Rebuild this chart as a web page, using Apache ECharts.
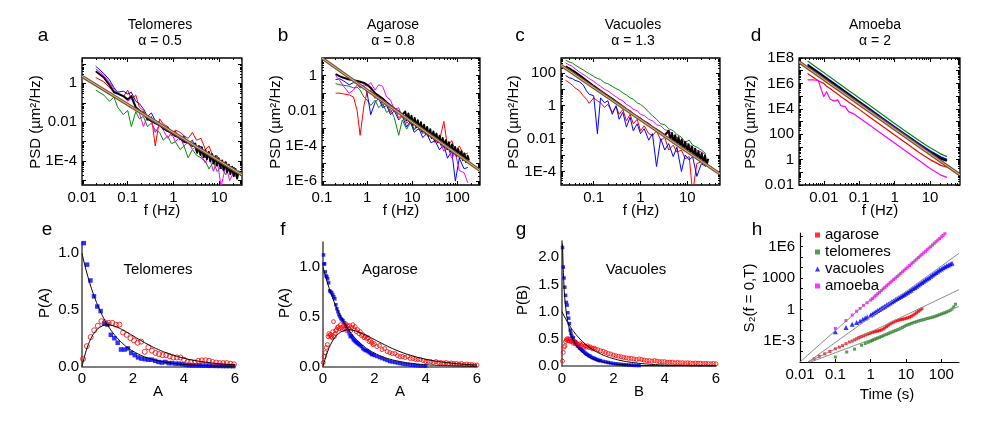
<!DOCTYPE html>
<html>
<head>
<meta charset="utf-8">
<script src="https://cdn.jsdelivr.net/npm/echarts@6/dist/echarts.min.js"></script>
<style>
html, body { margin: 0; padding: 0; background: #fff; }
#chart { width: 1004px; height: 433px; }
</style>
</head>
<body>
<div id="chart"></div>
<script>
// ---- panel a: telomeres PSD ----
const freqA = [0.02,0.03,0.04,0.05,0.06,0.08,0.1,0.12,0.15,0.18,0.22,0.27,0.33,0.4,0.5,0.6,0.75,0.9,1.1,1.4,1.7,2.1,2.6,3.2,4,5,6,7.5,9,11,14,17,21,25];
const blueA = [7.5,3.2,1.5,0.6,0.35,0.4,0.28,0.35,0.12,0.09,0.05,0.02,0.03,0.012,0.01,0.004,0.006,0.003,0.0035,0.0012,0.002,0.0008,0.0012,0.0003,0.0006,0.00015,0.0003,0.00008,0.00015,0.00004,0.00009,0.00003,0.00005,0.00002];
const redA = [2.0,1.2,0.6,0.4,0.3,0.2,0.45,0.15,0.25,0.06,0.04,0.012,0.02,0.0006,0.015,0.008,0.006,0.002,0.004,0.003,0.002,0.0015,0.003,0.0012,0.0015,0.0004,0.0006,0.00015,0.0002,0.00006,0.0001,0.00003,0.00005,0.00002];
const greenA = [0.45,0.25,0.12,0.2,0.06,0.025,0.04,0.006,0.035,0.015,0.02,0.006,0.009,0.004,0.003,0.0012,0.002,0.0008,0.001,0.0004,0.0006,0.00015,0.0004,0.0002,0.00015,0.0001,0.00004,0.00009,0.00003,0.00005,0.00002,0.00004,0.00002,0.000015];
const magentaA = [5.5,2.6,1.1,0.5,0.3,0.22,0.12,0.18,0.05,0.03,0.006,0.02,0.01,0.003,0.008,0.004,0.0015,0.003,0.001,0.0018,0.0006,0.001,0.0004,0.0006,0.0002,0.00008,0.0002,0.00003,0.00012,0.000005,0.00006,0.00001,0.00003,0.00002];
const blackFreqA = [0.02,0.03,0.04,0.05,0.06,0.08,0.1,0.12,0.15,0.18,0.22,0.27,0.33,0.4,0.5,0.6,0.75,0.9,1.1,1.4,1.7,2.1,2.6,3,3.3,3.6,3.9,4.2,4.6,5,5.4,5.9,6.4,7,7.6,8.3,9,9.8,10.7,11.6,12.6,13.7,14.9,16.2,17.6,19.2,20.9,22.7,24.7,27];
const blackA = [4.2,2.0,0.8,0.35,0.3,0.22,0.15,0.22,0.06,0.04,0.03,0.015,0.012,0.009,0.007,0.005,0.0035,0.003,0.002,0.0016,0.001,0.0009,0.0006,8e-4,2.7e-4,6e-4,2.1e-4,5e-4,1.6e-4,3.8e-4,1.3e-4,3e-4,1e-4,2.3e-4,7.7e-5,1.8e-4,6e-5,1.4e-4,4.6e-5,1.1e-4,3.6e-5,8.5e-5,2.8e-5,6.6e-5,2.2e-5,5.2e-5,1.7e-5,4e-5,1.3e-5,3.2e-5];
const fitFreqA = [0.01, 31.6];
const fitA = [2.3, 2e-5];

// ---- panel b: agarose PSD ----
const freqB = [0.2,0.25,0.3,0.4,0.5,0.6,0.7,0.85,1,1.2,1.5,1.8,2.2,2.7,3.3,4,5,6,7.5,9,11,14,17,21,26,32,40,50,60,75,90,110,140,170];
const redB = [0.1,0.1,0.09,0.08,0.06,0.01,0.0004,0.02,0.12,0.15,0.05,0.08,0.02,0.03,0.008,0.015,0.004,0.006,0.002,0.003,0.0008,0.0015,0.0006,0.0009,0.0003,0.0005,0.0002,0.0025,0.0001,0.0002,0.00005,0.0001,0.00003,0.00004];
const greenB = [0.35,0.3,0.28,0.25,0.2,0.22,0.15,0.06,0.04,0.02,0.04,0.015,0.025,0.008,0.012,0.004,0.0004,0.003,0.0009,0.002,0.001,0.0012,0.0005,0.0008,0.0003,0.0004,0.00015,0.0002,0.00006,0.00009,0.00003,0.00005,0.00002,0.00002];
const blueB = [0.6,0.65,0.5,0.3,0.4,0.35,0.2,0.25,0.1,0.006,0.03,0.05,0.015,0.02,0.006,0.01,0.003,0.005,0.0012,0.0025,0.0006,0.001,0.0003,0.0005,0.00015,0.0002,0.00006,0.00012,0.00002,0.00005,0.000001,0.00002,0.000005,0.000006];
const magentaB = [1.0,0.5,0.25,0.1,0.15,0.3,0.2,0.3,0.25,0.4,0.15,0.3,0.25,0.06,0.04,0.012,0.015,0.004,0.006,0.002,0.003,0.001,0.0012,0.0004,0.0005,0.00015,0.0002,0.00005,0.0001,0.00002,0.00004,0.000004,0.000003,0.0000008];
const blackFreqB = [0.2,0.25,0.3,0.4,0.5,0.6,0.7,0.85,1,1.2,1.5,1.8,2.2,2.7,3.3,4,5,6,7,7.6,8.2,8.9,9.6,10.4,11.3,12.2,13.2,14.3,15.5,16.8,18.2,19.7,21.3,23,25,27,29.3,31.7,34.3,37.1,40.2,43.5,47.1,51,55.2,59.8,64.7,70,75.8,82,88.8,96,104,113,122,132,143,155,168,180];
const blackB = [1.2,0.9,0.75,0.6,0.55,0.5,0.45,0.38,0.3,0.2,0.1,0.07,0.05,0.03,0.02,0.013,0.009,0.006,9e-3,2.9e-3,7e-3,2.2e-3,5.2e-3,1.6e-3,3.9e-3,1.2e-3,2.9e-3,9e-4,2.2e-3,6.8e-4,1.6e-3,5e-4,1.2e-3,3.8e-4,9e-4,2.8e-4,6.7e-4,2.1e-4,5e-4,1.6e-4,3.8e-4,1.2e-4,2.8e-4,9e-5,2.1e-4,6.6e-5,1.6e-4,5e-5,1.2e-4,3.7e-5,8.8e-5,2.8e-5,6.6e-5,2.1e-5,5e-5,1.6e-5,3.7e-5,1.2e-5,2.8e-5,1.5e-5];
const fitFreqB = [0.1, 316];
const fitB = [10, 4e-6];

// ---- panel c: vacuoles PSD ----
const freqC = [0.025,0.03,0.035,0.04,0.05,0.06,0.07,0.08,0.1,0.12,0.14,0.17,0.2,0.25,0.3,0.35,0.42,0.5,0.6,0.7,0.85,1,1.2,1.5,1.8,2.2,2.7,3.3,4,5,6,7.5,9,11,13,16,20,25];
const greenC = [600,450,400,300,200,150,110,90,60,45,40,25,22,15,11,9,6,4.5,3,2.5,1.5,1.2,0.8,0.4,0.25,0.15,0.08,0.07,0.04,0.03,0.018,0.012,0.006,0.008,0.004,0.003,0.002,0.0012];
const magentaC = [400,300,250,180,110,80,60,45,30,20,15,10,8,5,3.5,2.5,2,1.2,0.9,0.6,0.5,0.3,0.25,0.15,0.12,0.07,0.06,0.035,0.03,0.015,0.012,0.007,0.006,0.004,0.003,0.002,0.0015,0.001];
const blueC = [70,50,45,35,28,18,8,5,4,0.02,3,1.5,2,0.3,1,0.15,0.4,0.05,0.2,0.03,0.08,0.02,0.04,0.008,0.02,0.0002,0.01,0.002,0.005,0.0008,0.003,0.0001,0.001,0.0005,0.0008,0.00005,0.0003,0.0002];
const redC = [35,25,18,12,8,4,2.5,1.4,3,2,1.5,0.8,1.2,0.4,0.9,0.3,0.6,0.12,0.3,0.08,0.15,0.03,0.06,0.02,0.015,0.03,0.008,0.012,0.002,0.004,0.0015,0.002,0.0006,0.0008,0.000005,0.0003,0.0004,0.0002];
const blackFreqC = [0.025,0.03,0.035,0.04,0.05,0.06,0.07,0.08,0.1,0.12,0.14,0.17,0.2,0.25,0.3,0.35,0.42,0.5,0.6,0.7,0.85,1,1.2,1.5,1.8,2.2,2.7,3.3,4,4.3,4.7,5.1,5.5,6,6.5,7,7.6,8.3,9,9.8,10.6,11.5,12.5,13.5,14.7,15.9,17.3,18.7,20.3,22,23.9,25.9,28];
const blackC = [250,190,140,110,70,48,34,26,16,11,8,5.5,4,2.6,1.8,1.3,0.9,0.6,0.45,0.3,0.22,0.16,0.11,0.075,0.05,0.035,0.024,0.016,0.03,0.008,0.022,0.0056,0.016,0.004,0.012,0.003,0.0087,0.0022,0.0063,0.0016,0.0045,0.0012,0.0033,0.00085,0.0024,0.00062,0.0017,0.00045,0.0013,0.00033,0.00093,0.00025,0.0006];
const fitFreqC = [0.02, 50];
const fitC = [290, 7e-5];

// ---- panel d: amoeba PSD ----
const freqD = [0.0035,0.005,0.007,0.01,0.012,0.015,0.02,0.025,0.03,0.04,0.05,0.07,0.1,0.2,0.5,1,2,5,10,15,20,30];
const greenD = [5.8e7,2.8e7,1.45e7,7.1e6,4.9e6,3.2e6,1.8e6,1.14e6,7.9e5,4.4e5,2.8e5,1.45e5,7.1e4,1.8e4,2.8e3,700,180,30,8.5,4.5,2.8,1.7];
const blueD = [3.2e7,1.55e7,8e6,3.9e6,2.7e6,1.75e6,1e6,6.3e5,4.4e5,2.4e5,1.55e5,8e4,3.9e4,1e4,1.55e3,390,100,17,4.8,2.5,1.6,1.0];
const blackD = [2.6e7,1.25e7,6.5e6,3.2e6,2.2e6,1.45e6,8e5,5.1e5,3.5e5,2e5,1.25e5,6.5e4,3.2e4,8e3,1.25e3,320,80,13,3.6,1.9,1.2,0.8];
const redD = [6e6,3e6,1.6e6,1e6,6e5,4e5,2.2e5,1.4e5,9.5e4,5.5e4,3.5e4,1.8e4,9e3,2.2e3,350,88,22,3.5,1.0,0.55,0.35,0.25];
const magentaD = [1.9e6,1.9e6,1.7e6,9e4,2.2e5,6e4,4e4,5e4,1.8e4,1.5e4,6e3,4e3,2e3,500,80,20,5,0.8,0.2,0.1,0.06,0.04];
const fitFreqD = [0.002, 70];
const fitD = [5e7, 0.063];

// ---- panels e, f: amplitude distributions ----
const fitAval = [0,0.1,0.2,0.3,0.4,0.5,0.6,0.8,1.0,1.2,1.4,1.6,1.8,2.0,2.3,2.6,3.0,3.5,4.0,4.5,5.0,5.5,6.0];
const fitDecay = [1.0,0.905,0.819,0.741,0.670,0.607,0.549,0.449,0.368,0.301,0.247,0.202,0.165,0.135,0.100,0.074,0.050,0.030,0.018,0.011,0.007,0.004,0.0025];
const fitPeak = [0,0.090,0.164,0.222,0.268,0.303,0.329,0.359,0.368,0.361,0.345,0.323,0.298,0.271,0.231,0.193,0.149,0.106,0.073,0.050,0.034,0.022,0.015];

const blueE_A = [0.07,0.2,0.33,0.47,0.6,0.73,0.87,1.0,1.13,1.27,1.4,1.53,1.67,1.8,1.93,2.07,2.2,2.33,2.47,2.6,2.73,2.87,3.0,3.13,3.27,3.4,3.53,3.67,3.8,3.93,4.07,4.2,4.33,4.47,4.6,4.73,4.87,5.0,5.13,5.27,5.4,5.53,5.67,5.8,5.93];
const blueE_P = [1.09,0.9,0.76,0.62,0.53,0.49,0.38,0.37,0.28,0.25,0.21,0.15,0.15,0.16,0.12,0.1,0.08,0.07,0.065,0.06,0.06,0.05,0.04,0.035,0.04,0.03,0.03,0.025,0.025,0.02,0.015,0.012,0.01,0.01,0.01,0.008,0.008,0.006,0.006,0.005,0.005,0.004,0.004,0.004,0.003];
const redE_A = [0.04,0.19,0.34,0.48,0.62,0.76,0.9,1.05,1.19,1.33,1.47,1.61,1.75,1.9,2.04,2.18,2.32,2.46,2.6,2.74,2.88,3.02,3.16,3.3,3.44,3.58,3.72,3.86,4.0,4.14,4.28,4.42,4.56,4.7,4.84,4.98,5.12,5.26,5.4,5.54,5.68,5.82,5.96];
const redE_P = [0.066,0.18,0.26,0.32,0.36,0.40,0.39,0.385,0.385,0.37,0.37,0.30,0.28,0.25,0.23,0.21,0.22,0.13,0.17,0.14,0.12,0.11,0.1,0.1,0.09,0.08,0.08,0.08,0.06,0.04,0.04,0.035,0.05,0.055,0.055,0.05,0.04,0.035,0.03,0.03,0.03,0.025,0.02];

const blueF_A = [0.02,0.04,0.06,0.09,0.12,0.15,0.18,0.22,0.26,0.3,0.34,0.38,0.42,0.46,0.5,0.54,0.58,0.62,0.66,0.7,0.74,0.78,0.82,0.86,0.9,0.94,0.98,1.02,1.06,1.1,1.14,1.18,1.22,1.26,1.3,1.35,1.4,1.45,1.5,1.55,1.6,1.65,1.7,1.75,1.8,1.85,1.9,1.95,2.0,2.1,2.2,2.3,2.4,2.5,2.6,2.7,2.8,2.9,3.0,3.1,3.2,3.3,3.4,3.5,3.6,3.7,3.8,3.9,4.0];
const blueF_P = [1.12,1.03,1.03,0.95,0.91,0.90,0.88,0.84,0.76,0.75,0.74,0.72,0.70,0.68,0.62,0.58,0.55,0.52,0.50,0.48,0.47,0.46,0.44,0.42,0.40,0.38,0.36,0.33,0.30,0.31,0.29,0.27,0.26,0.25,0.24,0.23,0.22,0.21,0.2,0.18,0.17,0.16,0.16,0.15,0.14,0.13,0.12,0.12,0.11,0.10,0.09,0.08,0.07,0.06,0.05,0.045,0.04,0.035,0.03,0.025,0.02,0.02,0.015,0.012,0.01,0.008,0.006,0.005,0.004];
const redF_A = [0.01,0.05,0.09,0.13,0.17,0.2,0.23,0.26,0.29,0.32,0.35,0.38,0.41,0.44,0.47,0.5,0.53,0.56,0.6,0.64,0.68,0.72,0.76,0.8,0.84,0.88,0.92,0.96,1.0,1.04,1.08,1.12,1.16,1.2,1.25,1.3,1.35,1.4,1.45,1.5,1.55,1.6,1.65,1.7,1.75,1.8,1.85,1.9,1.95,2.0,2.1,2.2,2.3,2.4,2.5,2.6,2.7,2.8,2.9,3.0,3.1,3.2,3.3,3.4,3.5,3.6,3.7,3.8,3.9,4.0,4.1,4.2,4.3,4.4,4.5,4.6,4.7,4.8,4.9,5.0,5.1,5.2,5.3,5.4,5.5,5.6,5.7,5.8,5.9,6.0];
const redF_P = [0.04,0.1,0.14,0.19,0.22,0.3,0.33,0.31,0.32,0.3,0.29,0.35,0.45,0.3,0.33,0.36,0.37,0.39,0.4,0.38,0.42,0.39,0.37,0.41,0.38,0.43,0.36,0.41,0.38,0.41,0.36,0.39,0.42,0.38,0.40,0.35,0.37,0.33,0.35,0.31,0.32,0.29,0.3,0.28,0.29,0.25,0.26,0.24,0.22,0.23,0.2,0.21,0.17,0.18,0.15,0.14,0.13,0.13,0.11,0.1,0.1,0.09,0.1,0.08,0.08,0.07,0.07,0.07,0.06,0.05,0.05,0.05,0.04,0.05,0.04,0.04,0.035,0.04,0.03,0.035,0.03,0.03,0.025,0.03,0.02,0.025,0.02,0.02,0.015,0.015];

// ---- panel g: vacuoles ----
const blueG_B = [0.02,0.05,0.08,0.11,0.14,0.17,0.2,0.23,0.26,0.29,0.32,0.35,0.38,0.41,0.44,0.47,0.5,0.53,0.56,0.6,0.64,0.68,0.72,0.76,0.8,0.85,0.9,0.95,1.0,1.05,1.1,1.15,1.2,1.25,1.3,1.35,1.4,1.45,1.5,1.6,1.7,1.8,1.9,2.0,2.1,2.2,2.3,2.4,2.5,2.6,2.7,2.8,2.9,3.0];
const blueG_P = [2.18,1.82,1.62,1.45,1.3,1.17,1.12,0.98,0.88,0.78,0.66,0.6,0.55,0.5,0.52,0.46,0.43,0.45,0.4,0.37,0.36,0.33,0.32,0.3,0.28,0.27,0.24,0.22,0.21,0.19,0.18,0.16,0.15,0.14,0.13,0.12,0.11,0.1,0.1,0.085,0.075,0.065,0.055,0.045,0.04,0.035,0.03,0.025,0.022,0.018,0.015,0.012,0.01,0.008];
const redG_B = [0.02,0.05,0.08,0.11,0.14,0.17,0.2,0.23,0.26,0.29,0.32,0.36,0.4,0.44,0.48,0.52,0.56,0.6,0.65,0.7,0.75,0.8,0.85,0.9,0.95,1.0,1.05,1.1,1.15,1.2,1.25,1.3,1.4,1.5,1.6,1.7,1.8,1.9,2.0,2.1,2.2,2.3,2.4,2.5,2.6,2.7,2.8,2.9,3.0,3.1,3.2,3.3,3.4,3.5,3.6,3.7,3.8,3.9,4.0,4.1,4.2,4.3,4.4,4.5,4.6,4.7,4.8,4.9,5.0,5.1,5.2,5.3,5.4,5.5,5.6,5.7,5.8,5.9,6.0];
const redG_P = [0.09,0.25,0.35,0.37,0.45,0.48,0.5,0.47,0.5,0.46,0.49,0.45,0.47,0.42,0.44,0.41,0.42,0.4,0.39,0.41,0.38,0.4,0.36,0.37,0.35,0.37,0.34,0.35,0.33,0.32,0.33,0.31,0.3,0.28,0.27,0.25,0.23,0.22,0.2,0.19,0.18,0.17,0.16,0.15,0.14,0.14,0.13,0.12,0.13,0.12,0.11,0.1,0.1,0.09,0.1,0.09,0.08,0.08,0.08,0.07,0.07,0.07,0.06,0.065,0.06,0.06,0.055,0.06,0.055,0.05,0.055,0.05,0.05,0.045,0.05,0.045,0.04,0.045,0.04];
const fitG_B = [0.02,0.04,0.06,0.08,0.1,0.15,0.2,0.3,0.4,0.5,0.6,0.8,1.0,1.2,1.5,2.0,2.5,3.0,4.0,6.0];
const fitG_sharp = [2.25,1.9,1.65,1.45,1.3,1.05,0.88,0.66,0.52,0.42,0.35,0.25,0.18,0.13,0.085,0.04,0.02,0.01,0.003,0.0003];

// ---- panel h: S2 vs time ----
const agaroseT = [0.025,0.035,0.05,0.07,0.1,0.13,0.16,0.2,0.25,0.3,0.35,0.4,0.45,0.5,0.56,0.63,0.71,0.8,0.9,1.0,1.12,1.26,1.41,1.58,1.78,2.0,2.24,2.51,2.82,3.16,3.55,3.98,4.47,5.01,5.62,6.31,7.08,7.94,8.91,10,11.2,12.6,14.1,15.8,17.8,20,22.4,25.1,28.2];
const agaroseS = [2e-5,3.5e-5,6e-5,1e-4,1.8e-4,2.6e-4,3.6e-4,5.5e-4,8e-4,1e-3,1.3e-3,1.6e-3,2e-3,2.3e-3,2.7e-3,3.2e-3,3.8e-3,4.5e-3,5.2e-3,6e-3,6.8e-3,7.6e-3,8.3e-3,9e-3,1e-2,1.15e-2,1.4e-2,1.8e-2,2.4e-2,3.2e-2,4.2e-2,5.3e-2,6.5e-2,7.8e-2,9e-2,0.1,0.11,0.12,0.13,0.145,0.165,0.19,0.23,0.29,0.38,0.5,0.68,0.9,1.2];
const telomeresT = [0.1,0.21,0.35,0.55,0.7,0.85,1.0,1.12,1.26,1.41,1.58,1.78,2.0,2.24,2.51,2.82,3.16,3.55,3.98,4.47,5.01,5.62,6.31,7.08,7.94,8.91,10,11.2,12.6,14.1,15.8,17.8,20,22.4,25.1,28.2,31.6,35.5,39.8,44.7,50.1,56.2,63.1,70.8,79.4,89.1,100,112,126,141,158,178,200,224,251];
const telomeresS = [3e-5,9e-5,1.7e-4,4e-4,5.8e-4,7.5e-4,9.5e-4,1.15e-3,1.4e-3,1.65e-3,1.9e-3,2.25e-3,2.7e-3,3.2e-3,3.8e-3,4.4e-3,5.2e-3,6.2e-3,7.3e-3,8.5e-3,1e-2,1.17e-2,1.35e-2,1.65e-2,2e-2,2.45e-2,3e-2,3.5e-2,4e-2,4.7e-2,5.5e-2,6.2e-2,7e-2,8e-2,9e-2,0.1,0.11,0.125,0.14,0.155,0.17,0.19,0.21,0.24,0.28,0.33,0.38,0.44,0.5,0.6,0.7,0.85,1.1,1.8,3.2];
const vacuolesT = [0.1,0.2,0.3,0.4,0.5,0.6,0.7,0.8,1.0,1.12,1.26,1.41,1.58,1.78,2.0,2.24,2.51,2.82,3.16,3.55,3.98,4.47,5.01,5.62,6.31,7.08,7.94,8.91,10,11.2,12.6,14.1,15.8,17.8,20,22.4,25.1,28.2,31.6,35.5,39.8,44.7,50.1,56.2,63.1,70.8,79.4,89.1,100,112,126,141,158,178,200];
const vacuolesS = [7.6e-3,0.02,0.04,0.06,0.08,0.12,0.16,0.2,0.3,0.38,0.5,0.63,0.8,1.02,1.3,1.65,2.1,2.7,3.4,4.3,5.5,7,9,11.3,14,17.5,22,28,35,44,60,75,100,130,170,220,290,380,500,650,870,1.1e3,1.5e3,2e3,2.6e3,3.4e3,4.5e3,5.8e3,7.5e3,9.5e3,1.2e4,1.5e4,1.8e4,2.2e4,2.6e4];
const amoebaT = [0.1,0.2,0.3,0.4,0.5,0.63,0.79,1.0,1.12,1.26,1.41,1.58,1.78,2.0,2.24,2.51,2.82,3.16,3.55,3.98,4.47,5.01,5.62,6.31,7.08,7.94,8.91,10,11.2,12.6,14.1,15.8,17.8,20,22.4,25.1,28.2,31.6,35.5,39.8,44.7,50.1,56.2,63.1,70.8,79.4,89.1,100,112,126];
const amoebaS = [0.016,0.09,0.3,0.7,1.3,2.5,4.5,8,11.3,16,22.6,32,45,65,92,130,184,260,368,520,735,1e3,1.42e3,2e3,2.83e3,4e3,5.66e3,8e3,1.13e4,1.6e4,2.26e4,3.2e4,4.5e4,6.5e4,9.2e4,1.3e5,1.84e5,2.6e5,3.68e5,5.2e5,7.35e5,1e6,1.47e6,2.1e6,2.97e6,4.2e6,5.95e6,8.5e6,1.2e7,1.7e7];
const guideT = [[0.01,130],[0.017,316],[0.017,316],[0.02,316]];
const guideS = [[1e-5,2e7],[1e-5,2.3e5],[1e-5,80],[1e-5,2]];

// ---- tick labels ----
const xTicksA = [0.01,0.1,1,10], yTicksA = [1e-4,0.01,1];
const xTicksB = [0.1,1,10,100], yTicksB = [1e-6,1e-4,0.01,1];
const xTicksC = [0.1,1,10], yTicksC = [1e-4,0.01,1,100];
const xTicksD = [0.01,0.1,1,10], yTicksD = [0.01,1,100,1e4,1e6,1e8];
const xTicksH = [0.01,0.1,1,10,100], yTicksH = [1e-3,1,1000,1e6];
const xTicksLin = [0,2,4,6];

const FONT = '"Liberation Sans", Arial, Helvetica, sans-serif';
const RED = '#ff0000', GREEN = '#0a870a', BLUE = '#0000ff', MAG = '#ff00ff', BLACK = '#000000';
const BROWN = '#7a5634', TAN = '#d8b98c';
const TICK_FS = 15, NAME_FS = 15;

const grids = [], xAxes = [], yAxes = [], series = [];
const zip = (xs, ys) => xs.map((x, i) => [x, ys[i]]);

function logLabel(v) {
  const e = Math.round(Math.log10(v));
  if (e >= -2 && e <= 3) return e < 0 ? Math.pow(10, e).toFixed(-e) : String(Math.pow(10, e));
  return '1E' + e;
}
function decades(min, max) {
  const out = [];
  for (let e = Math.ceil(Math.log10(min) - 1e-9); e <= Math.floor(Math.log10(max) + 1e-9); e++) out.push(Math.pow(10, e));
  return out;
}
function minors(min, max) {
  const out = [];
  for (let e = Math.floor(Math.log10(min)); e <= Math.ceil(Math.log10(max)); e++)
    for (let k = 2; k < 10; k++) { const v = k * Math.pow(10, e); if (v > min && v < max) out.push(v); }
  return out;
}
function axis(type, gi, pos, range, ticks, len, labels, fmt, lineOn) {
  const a = {
    type: type, gridIndex: gi, position: pos, min: range[0], max: range[1],
    axisLine: lineOn ? { show: true, lineStyle: lineOn } : { show: false },
    splitLine: { show: false },
    axisTick: { show: ticks.length > 0, inside: true, length: len, customValues: ticks, lineStyle: { color: '#000', width: 1 } },
    axisLabel: labels ? { show: true, customValues: labels, formatter: fmt, margin: 5, color: '#000', fontSize: TICK_FS, fontFamily: FONT } : { show: false }
  };
  if (type === 'log') a.logBase = 10;
  return a;
}
function logBox(rect, xr, yr, xl, yl) {
  const gi = grids.length;
  grids.push({ left: rect[0], top: rect[1], width: rect[2], height: rect[3], show: true, borderColor: '#000', borderWidth: 1.3, backgroundColor: 'transparent' });
  const xi = xAxes.length, yi = yAxes.length;
  xAxes.push(axis('log', gi, 'bottom', xr, decades(...xr), 4, xl, logLabel));
  xAxes.push(axis('log', gi, 'bottom', xr, minors(...xr), 2));
  xAxes.push(axis('log', gi, 'top', xr, decades(...xr), 4));
  xAxes.push(axis('log', gi, 'top', xr, minors(...xr), 2));
  yAxes.push(axis('log', gi, 'left', yr, decades(...yr), 4, yl, logLabel));
  yAxes.push(axis('log', gi, 'left', yr, minors(...yr), 2));
  yAxes.push(axis('log', gi, 'right', yr, decades(...yr), 4));
  yAxes.push(axis('log', gi, 'right', yr, minors(...yr), 2));
  return { xi, yi };
}
function linBox(rect, yr, yl) {
  const gi = grids.length;
  grids.push({ left: rect[0], top: rect[1], width: rect[2], height: rect[3], show: false });
  const xi = xAxes.length, yi = yAxes.length;
  const ls = { color: '#555', width: 1.6 };
  xAxes.push(axis('value', gi, 'bottom', [0, 6], [], 0, xTicksLin, v => String(v), ls));
  yAxes.push(axis('value', gi, 'left', yr, [], 0, yl, v => v.toFixed(1), ls));
  xAxes[xi].axisLabel.margin = 5; yAxes[yi].axisLabel.margin = 3;
  return { xi, yi };
}
function line(ax, xs, ys, color, width, smooth) {
  series.push({ type: 'line', xAxisIndex: ax.xi, yAxisIndex: ax.yi, data: zip(xs, ys), symbol: 'none', smooth: smooth || false,
    lineStyle: { color: color, width: width, join: 'round' }, silent: true });
}
function dots(ax, xs, ys, symbol, size, color, hollow, name) {
  series.push({ type: 'scatter', name: name, xAxisIndex: ax.xi, yAxisIndex: ax.yi, data: zip(xs, ys), symbol: symbol, symbolSize: size,
    itemStyle: hollow ? { color: 'rgba(0,0,0,0)', borderColor: color, borderWidth: 1 } : { color: color }, silent: true });
}
function brown(ax, xs, ys) { line(ax, xs, ys, BROWN, 3.2); line(ax, xs, ys, TAN, 1); }

// ---- top row ----
const pa = logBox([82, 58, 160, 127], [0.01, 31.6], [6e-6, 20], xTicksA, yTicksA);
line(pa, freqA, greenA, GREEN, 1); line(pa, freqA, redA, RED, 1); line(pa, freqA, blueA, BLUE, 1);
line(pa, freqA, magentaA, MAG, 1); line(pa, blackFreqA, blackA, BLACK, 2); brown(pa, fitFreqA, fitA);

const pb = logBox([322, 58, 158, 127], [0.1, 316], [6e-7, 10], xTicksB, yTicksB);
line(pb, freqB, redB, RED, 1); line(pb, freqB, greenB, GREEN, 1); line(pb, freqB, blueB, BLUE, 1);
line(pb, freqB, magentaB, MAG, 1); line(pb, blackFreqB, blackB, BLACK, 2); brown(pb, fitFreqB, fitB);

const pc = logBox([561, 58, 159, 127], [0.02, 50], [1.5e-5, 800], xTicksC, yTicksC);
line(pc, freqC, greenC, GREEN, 1); line(pc, freqC, redC, RED, 1); line(pc, freqC, blueC, BLUE, 1);
line(pc, freqC, magentaC, MAG, 1); line(pc, blackFreqC, blackC, BLACK, 2); brown(pc, fitFreqC, fitC);

const pd = logBox([799, 58, 161, 127], [0.002, 70], [0.01, 1e8], xTicksD, yTicksD);
line(pd, freqD, greenD, GREEN, 1.2); line(pd, freqD, redD, RED, 1.2); line(pd, freqD, magentaD, MAG, 1.2);
line(pd, freqD, blueD, BLUE, 1.6); line(pd, freqD, blackD, BLACK, 2.2); brown(pd, fitFreqD, fitD);

// ---- bottom row ----
const pe = linBox([82, 242, 153, 124.5], [0, 1.1], [0, 0.5, 1.0]);
dots(pe, blueE_A, blueE_P, 'rect', 4.5, BLUE, false); dots(pe, redE_A, redE_P, 'circle', 5, RED, true);
line(pe, fitAval, fitDecay, BLACK, 1, true); line(pe, fitAval, fitPeak, BLACK, 1, true);

const pf = linBox([323, 242, 154, 124.5], [0, 1.25], [0, 0.5, 1.0]);
dots(pf, blueF_A, blueF_P, 'rect', 3.5, BLUE, false); dots(pf, redF_A, redF_P, 'circle', 4, RED, true);
line(pf, fitAval, fitDecay, BLACK, 1, true); line(pf, fitAval, fitPeak, BLACK, 1, true);

const pg = linBox([562, 241, 154, 125], [0, 2.3], [0, 0.5, 1.0, 1.5, 2.0]);
dots(pg, blueG_B, blueG_P, 'rect', 3.5, BLUE, false); dots(pg, redG_B, redG_P, 'circle', 4, RED, true);
line(pg, fitAval, fitDecay, BLACK, 1, true); line(pg, fitG_B, fitG_sharp, BLACK, 1, true);

// panel h
const ghi = grids.length;
grids.push({ left: 800, top: 233, width: 159, height: 129, show: false });
const ph = { xi: xAxes.length, yi: yAxes.length };
xAxes.push(axis('log', ghi, 'bottom', [0.01, 316], decades(0.01, 316), 3, xTicksH, logLabel, { color: '#000', width: 1.2 }));
yAxes.push(axis('log', ghi, 'left', [1e-5, 2e7], decades(1e-5, 2e7), 3, yTicksH, logLabel, { color: '#000', width: 1.2 }));
guideT.forEach((t, i) => line(ph, t, guideS[i], '#8c8c8c', 1));
dots(ph, agaroseT, agaroseS, 'rect', 3, RED, false, 'agarose');
dots(ph, telomeresT, telomeresS, 'rect', 3, '#1e8c1e', false, 'telomeres');
dots(ph, vacuolesT, vacuolesS, 'triangle', 5, BLUE, false, 'vacuoles');
dots(ph, amoebaT, amoebaS, 'rect', 3, MAG, false, 'amoeba');

// ---- text ----
function txt(x, y, s, size, rot) {
  return { type: 'text', x: x, y: y, rotation: rot || 0, silent: true,
    style: { text: s, fontSize: size || NAME_FS, fontFamily: FONT, fill: '#000', align: 'center', verticalAlign: 'middle' } };
}
const R = Math.PI / 2;
const graphics = [
  txt(160, 25, 'Telomeres', 14), txt(160, 41, '\u03b1 = 0.5', 14),
  txt(393, 25, 'Agarose', 14), txt(393, 41, '\u03b1 = 0.8', 14),
  txt(633, 25, 'Vacuoles', 14), txt(633, 41, '\u03b1 = 1.3', 14),
  txt(875, 25, 'Amoeba', 14), txt(875, 41, '\u03b1 = 2', 14),
  txt(43, 36, 'a', 19), txt(283, 36, 'b', 19), txt(520, 36, 'c', 19), txt(756, 36, 'd', 19),
  txt(47, 230, 'e', 19), txt(283, 230, 'f', 19), txt(521, 230, 'g', 19), txt(757, 230, 'h', 19),
  txt(162, 211, 'f (Hz)'), txt(401, 211, 'f (Hz)'), txt(641, 211, 'f (Hz)'), txt(880, 211, 'f (Hz)'),
  txt(36, 122, 'PSD (\u00b5m\u00b2/Hz)', NAME_FS, R), txt(276, 122, 'PSD (\u00b5m\u00b2/Hz)', NAME_FS, R),
  txt(514, 122, 'PSD (\u00b5m\u00b2/Hz)', NAME_FS, R), txt(751, 122, 'PSD (\u00b5m\u00b2/Hz)', NAME_FS, R),
  txt(158, 392, 'A'), txt(400, 392, 'A'), txt(639, 392, 'B'), txt(887, 395, 'Time (s)'),
  txt(45, 303, 'P(A)', NAME_FS, R), txt(285, 303, 'P(A)', NAME_FS, R), txt(523, 300, 'P(B)', NAME_FS, R),
  txt(750, 298, 'S\u2082(f = 0,T)', NAME_FS, R),
  txt(158, 270, 'Telomeres'), txt(390, 270, 'Agarose'), txt(636, 270, 'Vacuoles')
];

const chart = echarts.init(document.getElementById('chart'));
chart.setOption({
  animation: false,
  backgroundColor: '#fff',
  textStyle: { fontFamily: FONT },
  grid: grids, xAxis: xAxes, yAxis: yAxes, series: series,
  legend: {
    data: ['agarose', 'telomeres', 'vacuoles', 'amoeba'], orient: 'vertical', left: 810, top: 222,
    itemWidth: 5, itemHeight: 5, itemGap: 1, selectedMode: false,
    textStyle: { fontSize: 15, fontFamily: FONT, color: '#000', lineHeight: 16 }
  },
  graphic: graphics
});
</script>
</body>
</html>
